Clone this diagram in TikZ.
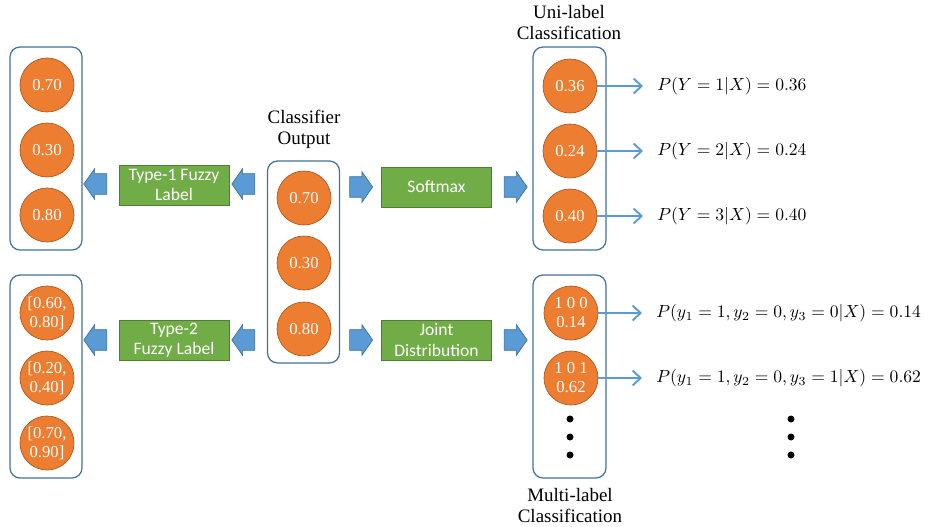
\documentclass[tikz,border=0pt]{standalone}
\usepackage{fontspec}
\setmainfont{Liberation Serif}
\newfontfamily\calibri{Carlito}
\usetikzlibrary{shapes, arrows.meta, positioning}
\definecolor{orangeFill}{HTML}{ED7D31}
\definecolor{orangeDraw}{HTML}{AE5A21}
\definecolor{greenFill}{HTML}{70AD47}
\definecolor{greenDraw}{HTML}{507E32}
\definecolor{blueFill}{HTML}{5B9BD5}
\definecolor{blueDraw}{HTML}{41719C}
\tikzstyle{unit}=[circle, minimum size=1.08cm, inner sep=0pt, draw=orangeDraw, fill=orangeFill,
  text=white, align=center, font=\fontsize{9.5}{10.8}\selectfont]
\tikzstyle{frame}=[rectangle, rounded corners=0.2cm, draw=blueDraw, line width=0.7pt,
  minimum width=1.44cm, minimum height=4.06cm]
\tikzstyle{op}=[rectangle, draw=greenDraw, fill=greenFill, text=white, align=center,
  minimum width=2.2cm, minimum height=0.8cm, inner sep=0pt, font=\calibri\fontsize{10}{11.5}\selectfont]
\tikzstyle{bigArrow}=[single arrow, draw=blueDraw, fill=blueFill, inner xsep=0pt, inner ysep=0.2cm,
  minimum height=0.46cm, single arrow head extend=0.1cm, single arrow tip angle=110]
\tikzstyle{thinArrow}=[-{Straight Barb[length=1.6mm, width=3mm]}, draw=blueFill,
  line width=1.1pt, shorten >=0.28cm]
\tikzstyle{caption}=[align=center, font=\fontsize{10.8}{12}\selectfont]
\tikzstyle{prob}=[anchor=west, inner sep=0pt, font=\fontsize{10}{12}\selectfont]
\tikzstyle{dot}=[circle, fill=black, inner sep=0pt, minimum size=0.14cm]

\begin{document}
\begin{tikzpicture}[x=0.02cm, y=-0.02cm]
  \useasboundingbox (0,0) rectangle (930,527);
  % frames
  \node(t1Frame) at (46,148.5) [frame] {};
  \node(t2Frame) at (46,376.5) [frame] {};
  \node(outFrame) at (303.5,262) [frame, minimum height=4.04cm] {};
  \node(uniFrame) at (569.5,148.5) [frame, minimum width=1.46cm] {};
  \node(multiFrame) at (569.5,376.5) [frame, minimum width=1.46cm] {};
  \node(outCap) at (304,129) [caption] {Classifier\\Output};
  \node(uniCap) at (569,22.5) [caption] {Uni-label\\Classification};
  \node(multiCap) at (570,505.5) [caption] {Multi-label\\Classification};
  % classifier output
  \node(o1) at (304,198) [unit] {0.70};
  \node(o2) at (304,263) [unit] {0.30};
  \node(o3) at (304,329) [unit] {0.80};
  % fuzzy labels
  \node(a1) at (47,85) [unit] {0.70};
  \node(a2) at (47,150) [unit] {0.30};
  \node(a3) at (47,215) [unit] {0.80};
  \node(b1) at (47,313) [unit] {[0.60,\\0.80]};
  \node(b2) at (47,378) [unit] {[0.20,\\0.40]};
  \node(b3) at (47,443) [unit] {[0.70,\\0.90]};
  % classifications
  \node(u1) at (570,86) [unit] {0.36};
  \node(u2) at (570,151) [unit] {0.24};
  \node(u3) at (570,216) [unit] {0.40};
  \node(m1) at (571,313) [unit] {1 0 0\\0.14};
  \node(m2) at (571,378) [unit] {1 0 1\\0.62};
  \node(md1) at (570,419) [dot] {};
  \node(md2) at (570,437) [dot] {};
  \node(md3) at (570,455) [dot] {};
  % operations
  \node(type1) at (174,185) [op] {Type-1 Fuzzy\\Label};
  \node(type2) at (174,340) [op] {Type-2\\Fuzzy Label};
  \node(softmax) at (436.5,187) [op] {Softmax};
  \node(joint) at (436.5,340) [op] {Joint\\Distribution};
  \node(la1) at (99,184) [bigArrow, shape border rotate=180] {};
  \node(la2) at (247,184) [bigArrow, shape border rotate=180] {};
  \node(la3) at (99,340) [bigArrow, shape border rotate=180] {};
  \node(la4) at (247,340) [bigArrow, shape border rotate=180] {};
  \node(ra1) at (357.5,187) [bigArrow] {};
  \node(ra2) at (512,187) [bigArrow] {};
  \node(ra3) at (357.5,340) [bigArrow] {};
  \node(ra4) at (512,340) [bigArrow] {};
  % probabilities
  \node(p1) at (657,86) [prob] {$P(Y=1|X)=0.36$};
  \node(p2) at (657,151) [prob] {$P(Y=2|X)=0.24$};
  \node(p3) at (657,216) [prob] {$P(Y=3|X)=0.40$};
  \node(p4) at (656,313) [prob] {$P(y_1=1,y_2=0,y_3=0|X)=0.14$};
  \node(p5) at (656,378) [prob] {$P(y_1=1,y_2=0,y_3=1|X)=0.62$};
  \node(pd1) at (791,419) [dot] {};
  \node(pd2) at (791,437) [dot] {};
  \node(pd3) at (791,455) [dot] {};
  \draw[thinArrow] (u1.east) -- (p1.west);
  \draw[thinArrow] (u2.east) -- (p2.west);
  \draw[thinArrow] (u3.east) -- (p3.west);
  \draw[thinArrow] (m1.east) -- (p4.west);
  \draw[thinArrow] (m2.east) -- (p5.west);
\end{tikzpicture}
\end{document}
